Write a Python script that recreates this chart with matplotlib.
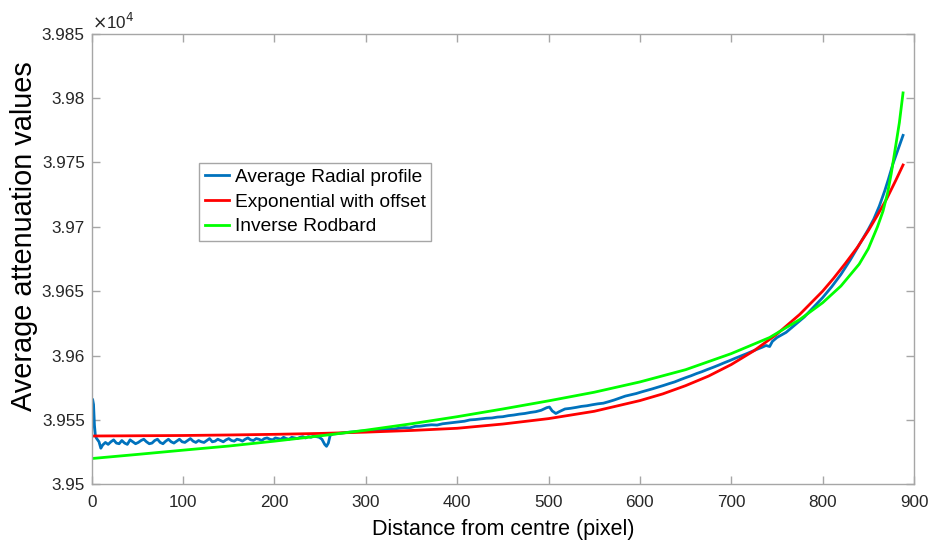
import matplotlib
matplotlib.use("Agg")
import matplotlib.pyplot as plt
from matplotlib.ticker import FixedLocator, FuncFormatter

plt.rcParams['font.family'] = ['Liberation Sans', 'DejaVu Sans']

# ---------------- data ----------------
x_ticks = [0, 100, 200, 300, 400, 500, 600, 700, 800, 900]
y_ticks = [39500, 39550, 39600, 39650, 39700, 39750, 39800, 39850]

# Average radial profile (blue)
blue_x = [0, 1, 2, 3, 4, 5, 6, 8, 10,
          12, 15, 18, 21, 24, 27, 30, 33, 36, 39, 42, 45, 48, 51, 54, 57, 60,
          63, 66, 69, 72, 75, 78, 81, 84, 87, 90, 93, 96, 99, 102, 105, 108,
          111, 114, 117, 120, 123, 126, 129, 132, 135, 138, 141, 144, 147, 150,
          153, 156, 159, 162, 165, 168, 171, 174, 177, 180, 183, 186, 189, 192,
          195, 198, 201, 204, 207, 210, 213, 216, 219, 222, 225, 228, 231, 234,
          237, 240, 243, 246, 249, 252, 255, 257, 259, 261,
          264, 270, 276, 282, 288, 294, 300, 306, 312, 318, 324, 330, 336, 342,
          348, 354, 360, 366, 372, 378, 384, 390, 396, 402, 408, 414, 420, 426,
          432, 438, 444, 450, 456, 462, 468, 474, 480, 486, 492, 498, 501, 504,
          508, 512, 518, 524, 530, 536, 542, 548, 554, 560, 566, 572, 578, 584,
          590, 596, 602, 608, 614, 620, 626, 632, 638, 644, 650, 656, 662, 668,
          674, 680, 686, 692, 698, 704, 710, 716, 722, 728, 734, 738, 742, 745,
          750, 760, 770, 780, 790, 800, 810, 820, 830, 840, 850, 856, 862, 868,
          872, 877, 882, 885, 888]
blue_y = [39540, 39566, 39562, 39546, 39538, 39536, 39535, 39533, 39528,
          39530.5, 39532.5, 39531, 39533, 39534.5, 39532, 39531.5, 39534, 39532,
          39531, 39534.5, 39533, 39531.5, 39532.5, 39534, 39535, 39533, 39531.5,
          39532, 39534, 39535, 39532.5, 39531.5, 39533.5, 39535, 39533, 39532,
          39533.5, 39535, 39533, 39532.5, 39534, 39535.5, 39533.5, 39532.5,
          39534, 39533, 39532.5, 39534, 39535.5, 39533, 39533.5, 39535, 39534,
          39533, 39534.5, 39535.5, 39534, 39533.5, 39535, 39534.5, 39533.5,
          39535, 39536, 39534.5, 39534, 39535.5, 39535, 39534, 39535.5, 39536,
          39535, 39534.5, 39536, 39535.5, 39535, 39536.5, 39535.5, 39535,
          39536.5, 39536, 39535.5, 39536.5, 39537, 39536, 39537, 39536.5,
          39537.5, 39537, 39536.5, 39535, 39531, 39529.5, 39532, 39538,
          39539, 39539.5, 39540, 39540.5, 39540.8, 39541.2, 39541.5, 39541.8,
          39542.5, 39542.2, 39543, 39542.8, 39543.5, 39544, 39543.8, 39545,
          39545.2, 39545.8, 39546.2, 39546, 39547, 39547.5, 39548, 39548.5,
          39549, 39550, 39550.3, 39550.8, 39551.3, 39551.5, 39552.2, 39552.5,
          39553.3, 39553.8, 39554.5, 39555, 39555.8, 39556.4, 39557.5, 39559.5,
          39560, 39557, 39555, 39556.5, 39558.5, 39559, 39559.7, 39560.5,
          39561, 39561.8, 39562.5, 39563, 39564.2, 39565.5, 39567, 39568.5,
          39569.5, 39570.5, 39571.8, 39573, 39574.2, 39575.5, 39576.8, 39578.2,
          39579.5, 39581.2, 39582.8, 39584.3, 39586, 39587.5, 39589.2, 39590.8,
          39592.5, 39594.3, 39596, 39597.8, 39599.5, 39601.2, 39603, 39604.8,
          39606.5, 39607.8, 39607, 39611, 39614, 39618, 39624, 39630, 39637.5,
          39645, 39653.5, 39663, 39674, 39686, 39698, 39706, 39716, 39728,
          39737, 39749, 39759, 39765, 39771]

# Exponential with offset (red)
red_x = [0, 50, 100, 150, 200, 250, 300, 350, 400, 450, 500, 550, 600, 625,
         650, 675, 700, 725, 750, 775, 800, 812, 825, 838, 850, 860, 870, 880, 888]
red_y = [39537.5, 39537.7, 39537.9, 39538.3, 39538.8, 39539.5, 39540.5,
         39541.8, 39543.5, 39546.8, 39551, 39556.7, 39565, 39570.2, 39576.6,
         39584, 39593, 39603.8, 39616.7, 39632, 39650, 39660, 39671.7, 39684,
         39697, 39709, 39721.6, 39736, 39748]

# Inverse Rodbard (green)
green_x = [0, 50, 100, 150, 200, 250, 300, 350, 400, 450, 500, 550, 600, 650,
           700, 742, 775, 800, 820, 840, 850, 860, 866, 871, 875, 880, 884, 888]
green_y = [39520, 39523.2, 39526.5, 39529.7, 39533.5, 39537.6, 39542, 39547,
           39552.5, 39558.5, 39564.8, 39571.5, 39579.5, 39589, 39601.5, 39614,
           39628, 39641, 39654, 39671, 39683, 39700, 39712, 39726, 39741,
           39763, 39781, 39804]

series_labels = ["Average Radial profile", "Exponential with offset",
                 "Inverse Rodbard"]

# ---------------- plot ----------------
fig = plt.figure(figsize=(9.3, 5.45), dpi=100)
ax = fig.add_axes([0.0986, 0.1114, 0.8842, 0.8268])

ax.plot(blue_x, blue_y, color='#0072BD', lw=2.0, label=series_labels[0])
ax.plot(red_x, red_y, color='#FF0000', lw=2.0, label=series_labels[1])
ax.plot(green_x, green_y, color='#00FF00', lw=2.0, label=series_labels[2])

ax.set_xlim(0, 900)
ax.set_ylim(39500, 39850)
ax.xaxis.set_major_locator(FixedLocator(x_ticks))
ax.yaxis.set_major_locator(FixedLocator(y_ticks))
ax.yaxis.set_major_formatter(FuncFormatter(lambda v, p: f"{v/1e4:g}"))

spine_col = '#A6A6A6'
for s in ax.spines.values():
    s.set_color(spine_col)
    s.set_linewidth(1.0)
ax.tick_params(direction='in', length=6, width=1.0, color=spine_col,
               top=True, right=True, labelsize=12.3, labelcolor='#262626')
ax.tick_params(axis='x', pad=8)
ax.tick_params(axis='y', pad=5)

ax.set_xlabel("Distance from centre (pixel)", fontsize=15.5, color='#000000',
              labelpad=6)
ax.set_ylabel("Average attenuation values", fontsize=20.8, color='#000000')
ax.yaxis.set_label_coords(-0.0653, 0.551)
ax.text(0.0, 1.004, r"$\times$10$^{4}$", transform=ax.transAxes, fontsize=12.3,
        color='#262626', ha='left', va='bottom')

leg = ax.legend(loc='upper left', bbox_to_anchor=(0.1309, 0.7137),
                borderaxespad=0, fontsize=13.8, fancybox=False,
                edgecolor='#A6A6A6', framealpha=1, handlelength=1.25,
                handletextpad=0.3, borderpad=0.3, labelspacing=0.38)
leg.get_frame().set_linewidth(1.0)

fig.savefig("out.png", dpi=100, facecolor='white')
